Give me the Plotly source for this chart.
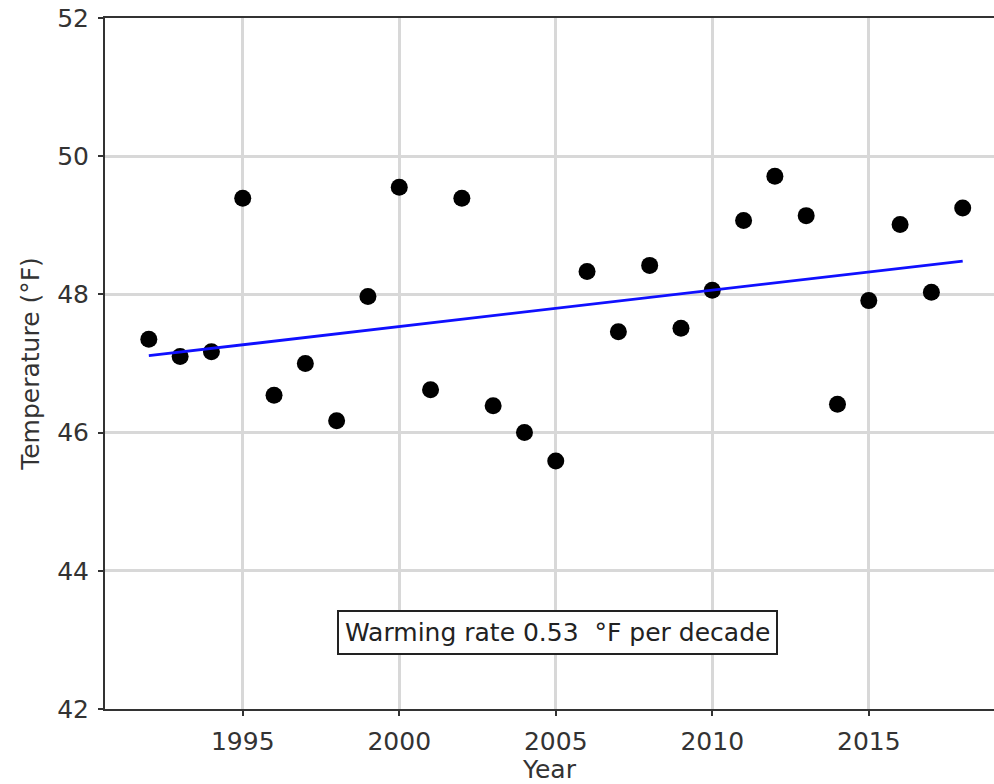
import numpy as np
import plotly.graph_objects as go

years = list(range(1992, 2019))
temps = [47.35, 47.10, 47.17, 49.39, 46.54, 47.00, 46.17, 47.97, 49.55, 46.62,
         49.39, 46.39, 46.00, 45.59, 48.33, 47.46, 48.42, 47.51, 48.06, 49.07,
         49.71, 49.14, 46.41, 47.91, 49.01, 48.03, 49.25]
x_ticks = [1995, 2000, 2005, 2010, 2015]
y_ticks = [42, 44, 46, 48, 50, 52]

slope, intercept = np.polyfit(years, temps, 1)
trend = [slope * y + intercept for y in years]
rate = slope * 10

font = "DejaVu Sans"
fs = 25
fig = go.Figure()
fig.add_trace(go.Scatter(x=years, y=temps, mode="markers",
                         marker=dict(color="black", size=17), showlegend=False))
fig.add_trace(go.Scatter(x=years, y=trend, mode="lines",
                         line=dict(color="#1010ff", width=2.8), showlegend=False))

fig.add_annotation(x=2005.05, y=43.1, xref="x", yref="y",
                   text=f"Warming rate {rate:.2f}  °F per decade", showarrow=False,
                   font=dict(family=font, size=fs, color="#222"),
                   bordercolor="#222", borderwidth=2, borderpad=6, bgcolor="white")

fig.update_layout(
    width=994, height=784,
    margin=dict(l=105, r=0, t=18, b=75),
    paper_bgcolor="white", plot_bgcolor="white",
    font=dict(family=font, size=fs, color="#333"),
    xaxis=dict(range=[1990.6, 2019.0], tickvals=x_ticks, showgrid=True,
               gridcolor="#d8d8d8", gridwidth=2.5, zeroline=False,
               showline=True, linecolor="#333", linewidth=2, mirror=True,
               ticks="outside", ticklen=5, tickwidth=1.5, tickcolor="#333",
               ticklabelstandoff=4,
               title=dict(text="Year", standoff=0, font=dict(size=fs))),
    yaxis=dict(range=[42, 52], tickvals=y_ticks, showgrid=True,
               gridcolor="#d8d8d8", gridwidth=2.5, zeroline=False,
               showline=True, linecolor="#333", linewidth=2,
               ticks="outside", ticklen=5, tickwidth=1.5, tickcolor="#333",
               ticklabelstandoff=4,
               title=dict(text="Temperature (°F)", standoff=10, font=dict(size=fs))),
)
fig.write_html("out.html")
